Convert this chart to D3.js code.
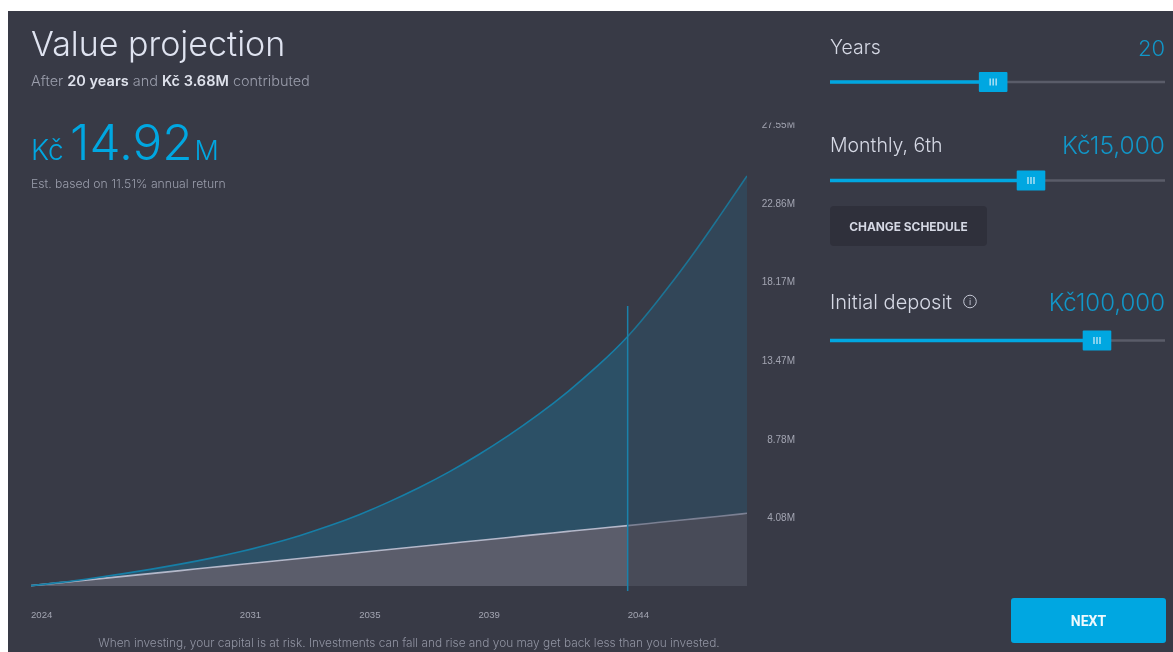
<!DOCTYPE html>
<html>
<head>
<meta charset="utf-8">
<script src="https://cdn.jsdelivr.net/npm/d3@7/dist/d3.min.js"></script>
<style>
html,body{margin:0;padding:0;background:#fff;overflow:hidden}
svg{display:block;filter:blur(0.45px)}
</style>
</head>
<body>
<svg id="c" width="1173" height="652"></svg>
<script>
const years = [2024,2025,2026,2027,2028,2029,2030,2031,2032,2033,2034,2035,2036,2037,2038,2039,2040,2041,2042,2043,2044,2045,2046,2047,2048];
const projected = [0.02,0.21,0.45,0.70,0.99,1.30,1.64,2.03,2.48,2.99,3.58,4.24,5.01,5.85,6.78,7.82,8.96,10.21,11.58,13.13,14.81,17.0,19.3,21.85,24.48];
const invested = [0.02,0.2,0.38,0.56,0.74,0.92,1.1,1.28,1.46,1.64,1.82,2.0,2.18,2.36,2.54,2.72,2.9,3.08,3.26,3.44,3.6,3.79,3.97,4.15,4.34];
const yTicks = [4.08,8.78,13.47,18.17,22.86,27.55];
const xTicks = [2024,2031,2035,2039,2044];
const selectedYear = 2044;
const sliderLabels = ["Years","Monthly, 6th","Initial deposit"];
const sliderValues = ["20","Kč15,000","Kč100,000"];
const sliderFractions = [0.487,0.6,0.797];

const svg = d3.select("#c");
const UI = "Inter, 'Noto Sans', sans-serif";
const AX = "'Liberation Sans', Arial, sans-serif";
const BLUE = "#00a7e1";

svg.append("rect").attr("x",8).attr("y",11).attr("width",1165).attr("height",641).attr("fill","#383a46");

const x = d3.scaleLinear().domain([2024,2048]).range([31,747]);
const y = d3.scaleLinear().domain([0,27.55]).range([586,124.5]);
const rows = years.map((d,i)=>({yr:d,p:projected[i],v:invested[i]}));

const defs = svg.append("defs");
defs.append("clipPath").attr("id","left").append("rect").attr("x",0).attr("y",0).attr("width",x(selectedYear)).attr("height",652);
defs.append("clipPath").attr("id","right").append("rect").attr("x",x(selectedYear)).attr("y",0).attr("width",x(2048)-x(selectedYear)).attr("height",652);
defs.append("clipPath").attr("id","axisclip").append("rect").attr("x",750).attr("y",122.5).attr("width",60).attr("height",420);

const curve = d3.curveBasis;
const areaP = d3.area().x(d=>x(d.yr)).y0(d=>y(d.v)).y1(d=>y(d.p)).curve(curve);
const areaV = d3.area().x(d=>x(d.yr)).y0(y(0)).y1(d=>y(d.v)).curve(curve);
const lineP = d3.line().x(d=>x(d.yr)).y(d=>y(d.p)).curve(curve);
const lineV = d3.line().x(d=>x(d.yr)).y(d=>y(d.v)).curve(curve);

const parts = [
  {clip:"left", fp:"#2c5066", fv:"#5b5d6b", lp:"#167ea6", lv:"#b4b8ca"},
  {clip:"right",fp:"#324658", fv:"#484b58", lp:"#1c7394", lv:"#7b8093"}
];
parts.forEach(s=>{
  const g = svg.append("g").attr("clip-path",`url(#${s.clip})`);
  g.append("path").datum(rows).attr("d",areaP).attr("fill",s.fp);
  g.append("path").datum(rows).attr("d",areaV).attr("fill",s.fv);
  g.append("path").datum(rows).attr("d",lineV).attr("fill","none").attr("stroke",s.lv).attr("stroke-width",1.6);
  g.append("path").datum(rows).attr("d",lineP).attr("fill","none").attr("stroke",s.lp).attr("stroke-width",1.6);
});
svg.append("line").attr("x1",x(selectedYear)).attr("x2",x(selectedYear)).attr("y1",306).attr("y2",591)
  .attr("stroke","#1a82ab").attr("stroke-width",1.5);

const yAxis = svg.append("g").attr("clip-path","url(#axisclip)").append("g")
  .attr("transform",`translate(795,0)`)
  .call(d3.axisRight(y).tickValues(yTicks).tickSize(0).tickPadding(0).tickFormat(d=>d.toFixed(2)+"M"));
yAxis.select(".domain").remove();
yAxis.selectAll("text").attr("font-family",AX).attr("font-size",10).attr("fill","#a3a5b2").attr("text-anchor","end");

const xAxis = svg.append("g").attr("transform","translate(-0.5,606)")
  .call(d3.axisBottom(x).tickValues(xTicks).tickSize(0).tickPadding(0).tickFormat(d3.format("d")));
xAxis.select(".domain").remove();
xAxis.selectAll("text").attr("font-family",AX).attr("font-size",9.6).attr("fill","#a3a5b2").attr("text-anchor","start").attr("y",5);

function txt(xp,yp,s,size,fill,opts={}){
  return svg.append("text").attr("x",xp).attr("y",yp).text(s).attr("font-family",opts.font||UI)
    .attr("font-size",size).attr("fill",fill).attr("font-weight",opts.w||400)
    .attr("text-anchor",opts.a||"start").attr("letter-spacing",opts.ls||null);
}
txt(31,56,"Value projection",34,"#dfe3f0",{w:300});
const sub = svg.append("text").attr("x",31).attr("y",86).attr("font-family",UI).attr("font-size",14.5).attr("fill","#9b9eac").attr("font-weight",300);
sub.append("tspan").text("After ");
sub.append("tspan").text("20 years").attr("font-weight",600).attr("fill","#dfe2ec");
sub.append("tspan").text(" and ");
sub.append("tspan").text("Kč 3.68M").attr("font-weight",600).attr("fill","#dfe2ec");
sub.append("tspan").text(" contributed");

txt(31,160,"Kč",28,BLUE,{w:300});
txt(70,160,"14.92",49.5,BLUE,{w:300});
txt(194.5,160,"M",27,BLUE,{w:300});
txt(31,188,"Est. based on 11.51% annual return",12.2,"#9b9eac",{w:300});

const sx = d3.scaleLinear().domain([0,1]).range([830,1165]);
const trackY = [82,180.5,340.5];
const labelY = [54,152,309];
const valueY = [56,154,311];
const valueSize = [22,24.5,24];
const labelSize = [19.5,19.5,20];
sliderLabels.forEach((l,i)=>{
  txt(830,labelY[i],l,labelSize[i],"#d5d8e4",{w:300});
  txt(1165,valueY[i],sliderValues[i],valueSize[i],"#1196c8",{a:"end",w:300});
  const ty = trackY[i], kx = sx(sliderFractions[i]);
  svg.append("line").attr("x1",sx(0)).attr("x2",sx(1)).attr("y1",ty).attr("y2",ty).attr("stroke","#5a5c69").attr("stroke-width",2.5);
  svg.append("line").attr("x1",sx(0)).attr("x2",kx).attr("y1",ty).attr("y2",ty).attr("stroke",BLUE).attr("stroke-width",3.5);
  svg.append("rect").attr("x",kx-14.3).attr("y",ty-10).attr("width",28.6).attr("height",20).attr("fill",BLUE).attr("rx",1);
  [-3,0,3].forEach(o=>svg.append("line").attr("x1",kx+o).attr("x2",kx+o).attr("y1",ty-3.5).attr("y2",ty+3.5).attr("stroke","#d6eef8").attr("stroke-width",1.2));
});

svg.append("rect").attr("x",830).attr("y",206).attr("width",157).attr("height",40).attr("rx",4).attr("fill","#2f303b");
txt(908.5,230.5,"CHANGE SCHEDULE",11.9,"#d5d8e4",{a:"middle",w:700});

svg.append("circle").attr("cx",970).attr("cy",301.5).attr("r",6.3).attr("fill","none").attr("stroke","#c4c7d4").attr("stroke-width",1);
txt(970,305,"i",9,"#c4c7d4",{a:"middle"});

svg.append("rect").attr("x",1011).attr("y",598).attr("width",155).attr("height",45).attr("rx",3).attr("fill",BLUE);
txt(1088.5,626,"NEXT",14,"#eef9fd",{a:"middle",w:700,font:"Roboto, sans-serif"});

txt(409,647,"When investing, your capital is at risk. Investments can fall and rise and you may get back less than you invested.",11.85,"#9194a2",{a:"middle",w:300});
</script>
</body>
</html>
